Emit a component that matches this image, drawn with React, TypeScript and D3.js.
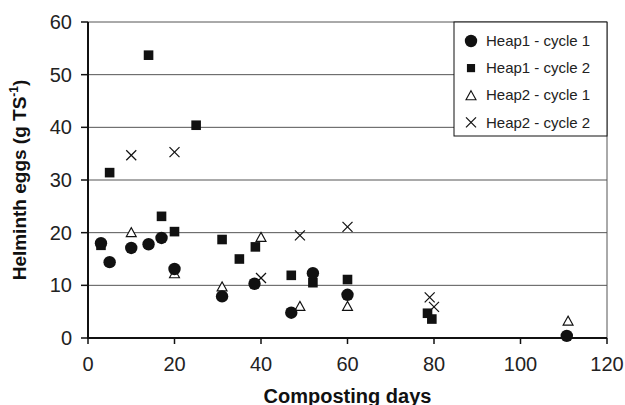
import React from "react";
import * as d3 from "d3";

const xTicks = [0, 20, 40, 60, 80, 100, 120];
const yTicks = [0, 10, 20, 30, 40, 50, 60];

const h1c1X = [3, 5, 10, 14, 17, 20, 31, 38.5, 47, 52, 60, 110.7];
const h1c1Y = [18.0, 14.4, 17.1, 17.8, 19.0, 13.1, 7.9, 10.3, 4.8, 12.3, 8.2, 0.4];
const h1c2X = [3, 5, 14, 17, 20, 25, 31, 35, 38.7, 47, 52, 60, 78.5, 79.5];
const h1c2Y = [17.6, 31.4, 53.7, 23.1, 20.2, 40.4, 18.7, 15.0, 17.3, 11.9, 10.5, 11.1, 4.7, 3.6];
const h2c1X = [10, 20, 31, 40, 49, 60, 111];
const h2c1Y = [20.1, 12.3, 9.8, 19.2, 6.1, 6.1, 3.3];
const h2c2X = [10, 20, 40, 49, 60, 79, 80];
const h2c2Y = [34.7, 35.3, 11.4, 19.5, 21.1, 7.7, 5.9];

const seriesNames = ["Heap1 - cycle 1", "Heap1 - cycle 2", "Heap2 - cycle 1", "Heap2 - cycle 2"];

const W = 625, H = 405;
const M = { left: 88, right: 18, top: 22, bottom: 67 };
const FONT = "Liberation Sans, Arial, sans-serif";

type Kind = "circle" | "square" | "triangle" | "cross";

function Marker({ kind, cx, cy, s = 1 }: { kind: Kind; cx: number; cy: number; s?: number }) {
  if (kind === "circle") return <circle cx={cx} cy={cy} r={6.2 * s} fill="#111" />;
  if (kind === "square") {
    const a = 9.6 * s;
    return <rect x={cx - a / 2} y={cy - a / 2} width={a} height={a} fill="#111" />;
  }
  if (kind === "triangle") {
    const w = 10 * s, h = 9 * s;
    const p = d3.path();
    p.moveTo(cx, cy - h / 2);
    p.lineTo(cx + w / 2, cy + h / 2);
    p.lineTo(cx - w / 2, cy + h / 2);
    p.closePath();
    return <path d={p.toString()} fill="#fff" stroke="#111" strokeWidth={1.1} />;
  }
  const a = 5 * s;
  return (
    <g stroke="#111" strokeWidth={1.2}>
      <line x1={cx - a} y1={cy - a} x2={cx + a} y2={cy + a} />
      <line x1={cx - a} y1={cy + a} x2={cx + a} y2={cy - a} />
    </g>
  );
}

export default function App() {
  const x = d3.scaleLinear().domain([0, 120]).range([M.left, W - M.right]);
  const y = d3.scaleLinear().domain([0, 60]).range([H - M.bottom, M.top]);

  const series: { kind: Kind; xs: number[]; ys: number[] }[] = [
    { kind: "circle", xs: h1c1X, ys: h1c1Y },
    { kind: "square", xs: h1c2X, ys: h1c2Y },
    { kind: "triangle", xs: h2c1X, ys: h2c1Y },
    { kind: "cross", xs: h2c2X, ys: h2c2Y },
  ];
  const drawOrder = [2, 1, 3, 0];

  const x0 = x(0), x1 = x(120), y0 = y(0), y1 = y(60);

  const legX = 454, legY = 22, legW = x1 - 454, legH = 114;

  return (
    <svg width={W} height={H} style={{ position: "absolute", left: 0, top: 0, background: "#fff" }} fontFamily={FONT}>
      {/* grid */}
      {yTicks.filter((t) => t > 0).map((t) => (
        <line key={t} x1={x0} x2={x1} y1={y(t)} y2={y(t)} stroke="#555" strokeWidth={1} />
      ))}
      <line x1={x1} x2={x1} y1={y1} y2={y0} stroke="#555" strokeWidth={1} />
      {/* axes */}
      <line x1={x0} x2={x0} y1={y1} y2={y0 + 1} stroke="#111" strokeWidth={2} />
      <line x1={x0 - 1} x2={x1} y1={y0} y2={y0} stroke="#111" strokeWidth={2} />
      {yTicks.map((t) => (
        <g key={t}>
          <line x1={x0 - 7} x2={x0} y1={y(t)} y2={y(t)} stroke="#111" strokeWidth={1.5} />
          <text x={x0 - 16} y={y(t)} dy="0.35em" textAnchor="end" fontSize={20} fill="#222">{t}</text>
        </g>
      ))}
      {xTicks.map((t) => (
        <g key={t}>
          <line x1={x(t)} x2={x(t)} y1={y0} y2={y0 + 6} stroke="#111" strokeWidth={1.5} />
          <text x={x(t)} y={y0 + 33} textAnchor="middle" fontSize={20} fill="#222">{t}</text>
        </g>
      ))}
      {/* titles */}
      <text x={(x0 + x1) / 2} y={H - 2} textAnchor="middle" fontSize={20} fontWeight="bold" fill="#111">Composting days</text>
      <text transform={`translate(26,${(y0 + y1) / 2}) rotate(-90)`} textAnchor="middle" fontSize={19} fontWeight="bold" fill="#111">
        Helminth eggs (g TS<tspan fontSize={12} dy={-8}>-1</tspan><tspan dy={8}>)</tspan>
      </text>
      {/* points */}
      {drawOrder.map((si) => {
        const s = series[si];
        return (
          <g key={si}>
            {s.xs.map((xv, i) => (
              <Marker key={i} kind={s.kind} cx={x(xv)} cy={y(s.ys[i])} />
            ))}
          </g>
        );
      })}
      {/* legend */}
      <rect x={legX} y={legY} width={legW} height={legH} fill="#fff" stroke="#111" strokeWidth={1} />
      {seriesNames.map((n, i) => {
        const cy = 41 + i * 27.1;
        return (
          <g key={n}>
            <Marker kind={series[i].kind} cx={471} cy={cy} s={i === 1 ? 0.85 : 1} />
            <text x={486} y={cy} dy="0.35em" fontSize={15} fill="#222">{n}</text>
          </g>
        );
      })}
    </svg>
  );
}
